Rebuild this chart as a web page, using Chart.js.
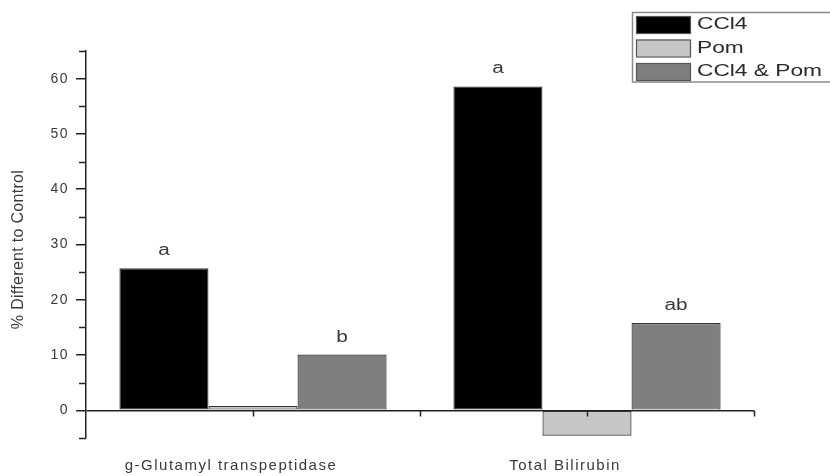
<!DOCTYPE html>
<html>
<head>
<meta charset="utf-8">
<title>% Different to Control</title>
<script src="https://cdn.jsdelivr.net/npm/chart.js@4"></script>
<style>
  html, body { margin: 0; padding: 0; background: #ffffff; }
  #wrap { width: 830px; height: 476px; overflow: hidden; }
  canvas { display: block; }
</style>
</head>
<body>
<div id="wrap"><canvas id="chart" width="830" height="476"></canvas></div>
<script>
// Markers and groups
const categories = ['g-Glutamyl transpeptidase', 'Total Bilirubin'];
const seriesNames = ['CCl4', 'Pom', 'CCl4 & Pom'];

// % difference to control per marker
const ccl4Values = [25.7, 58.6];
const pomValues = [0.8, -4.6];
const ccl4PomValues = [10.1, 15.8];

// Significance letters printed above the bars ('' = none)
const ccl4Letters = ['a', 'a'];
const pomLetters = ['', ''];
const ccl4PomLetters = ['b', 'ab'];

// Y axis labelled ticks and title
const yTickLabels = [0, 10, 20, 30, 40, 50, 60];
const yTitle = '% Different to Control';

const FONT = '"Liberation Sans", Arial, Helvetica, sans-serif';
const AXIS_COLOR = '#222222';
const TEXT_COLOR = '#3a3a3a';

// Draw text stretched horizontally around its anchor
function wideText(ctx, txt, x, y, sx) {
  ctx.save();
  ctx.translate(x, y);
  ctx.scale(sx, 1);
  ctx.fillText(txt, 0, 0);
  ctx.restore();
}

const annotations = {
  id: 'annotations',
  beforeDraw(chart) {
    // slightly tracked lettering for the axis tick labels
    chart.ctx.letterSpacing = '1.5px';
  },
  afterDatasetsDraw(chart) {
    const ctx = chart.ctx;
    const area = chart.chartArea;
    const yScale = chart.scales.y;
    const xScale = chart.scales.x;
    ctx.save();
    ctx.letterSpacing = '0px';

    // significance letters
    ctx.font = '16px ' + FONT;
    ctx.fillStyle = TEXT_COLOR;
    ctx.textAlign = 'center';
    ctx.textBaseline = 'alphabetic';
    chart.data.datasets.forEach((ds, di) => {
      const meta = chart.getDatasetMeta(di);
      meta.data.forEach((bar, i) => {
        const txt = ds.letters[i];
        if (!txt) return;
        const top = Math.min(bar.y, bar.base);
        wideText(ctx, txt, bar.x, top - 13, 1.3);
      });
    });

    // minor ticks (every 5) on the y axis
    ctx.strokeStyle = AXIS_COLOR;
    ctx.lineWidth = 1.5;
    for (let v = yScale.min; v <= yScale.max; v += 5) {
      if (v % 10 === 0) continue;
      const y = Math.round(yScale.getPixelForValue(v)) + 0.5;
      ctx.beginPath();
      ctx.moveTo(area.left - 7, y);
      ctx.lineTo(area.left, y);
      ctx.stroke();
    }

    // ticks hanging from the zero line at group centres and boundaries
    const y0 = Math.round(yScale.getPixelForValue(0)) + 0.5;
    const xs = [];
    categories.forEach((c, i) => {
      xs.push(xScale.getPixelForValue(i));
      if (i < categories.length - 1) {
        xs.push((xScale.getPixelForValue(i) + xScale.getPixelForValue(i + 1)) / 2);
      }
    });
    xs.push(area.right);
    xs.forEach(x => {
      const px = Math.round(x) + 0.5;
      ctx.beginPath();
      ctx.moveTo(px, y0);
      ctx.lineTo(px, y0 + 6);
      ctx.stroke();
    });

    // rotated y axis title
    ctx.font = '16px ' + FONT;
    ctx.letterSpacing = '0.3px';
    ctx.fillStyle = TEXT_COLOR;
    ctx.textAlign = 'center';
    ctx.textBaseline = 'middle';
    ctx.translate(19, (area.top + area.bottom) / 2 + 5);
    ctx.rotate(-Math.PI / 2);
    ctx.fillText(yTitle, 0, 0);
    ctx.restore();
  },
  afterDraw(chart) {
    // boxed legend in the top-right corner
    const ctx = chart.ctx;
    const left = 632, top = 12, rowH = 23.5;
    const n = chart.data.datasets.length;
    ctx.save();
    ctx.letterSpacing = '0px';
    ctx.fillStyle = '#ffffff';
    ctx.fillRect(left, top, 220, rowH * n - 1);
    ctx.strokeStyle = '#8a8a8a';
    ctx.lineWidth = 1.5;
    ctx.strokeRect(left + 0.5, top + 0.5, 220, rowH * n - 1);
    ctx.font = '16px ' + FONT;
    ctx.textAlign = 'left';
    ctx.textBaseline = 'middle';
    chart.data.datasets.forEach((ds, i) => {
      const y = top + 4 + i * rowH;
      ctx.fillStyle = ds.backgroundColor;
      ctx.fillRect(left + 4, y, 54, 17);
      ctx.strokeStyle = '#555555';
      ctx.lineWidth = 1.2;
      ctx.strokeRect(left + 4.5, y + 0.5, 54, 17);
      ctx.fillStyle = '#2a2a2a';
      wideText(ctx, ds.label, left + 65, y + 9, 1.42);
    });
    ctx.restore();
  }
};

const chart = new Chart(document.getElementById('chart'), {
  type: 'bar',
  data: {
    labels: categories,
    datasets: [
      { label: seriesNames[0], data: ccl4Values, letters: ccl4Letters, backgroundColor: '#000000' },
      { label: seriesNames[1], data: pomValues, letters: pomLetters, backgroundColor: '#c6c6c6' },
      { label: seriesNames[2], data: ccl4PomValues, letters: ccl4PomLetters, backgroundColor: '#7f7f7f' }
    ].map(d => Object.assign(d, {
      borderColor: '#333333',
      borderWidth: 1.2,
      borderSkipped: false,
      barPercentage: 1.0,
      categoryPercentage: 0.8
    }))
  },
  options: {
    responsive: false,
    animation: false,
    events: [],
    layout: { padding: { top: 51, right: 76, left: 4, bottom: 0 } },
    plugins: {
      legend: { display: false },
      tooltip: { enabled: false }
    },
    scales: {
      x: {
        grid: { display: false, drawTicks: false },
        border: { display: false },
        ticks: {
          color: TEXT_COLOR,
          font: { family: FONT, size: 15 },
          padding: 19,
          labelOffset: -22,
          maxRotation: 0,
          autoSkip: false
        },
        afterFit(scale) { scale.height = 38; }
      },
      y: {
        min: -5,
        max: 65,
        border: { display: true, color: AXIS_COLOR, width: 1.5 },
        grid: {
          drawOnChartArea: true,
          color: c => (c.tick && c.tick.value === 0) ? AXIS_COLOR : 'rgba(0,0,0,0)',
          lineWidth: 1.5,
          tickLength: 10,
          tickColor: c => (c.tick && yTickLabels.includes(c.tick.value)) ? AXIS_COLOR : 'rgba(0,0,0,0)',
          tickWidth: 1.5
        },
        ticks: {
          stepSize: 5,
          color: TEXT_COLOR,
          font: { family: FONT, size: 14 },
          padding: 7,
          callback: v => yTickLabels.includes(v) ? String(v) : ''
        },
        title: { display: false },
        afterFit(scale) { scale.width = 82; }
      }
    }
  },
  plugins: [annotations]
});
</script>
</body>
</html>
